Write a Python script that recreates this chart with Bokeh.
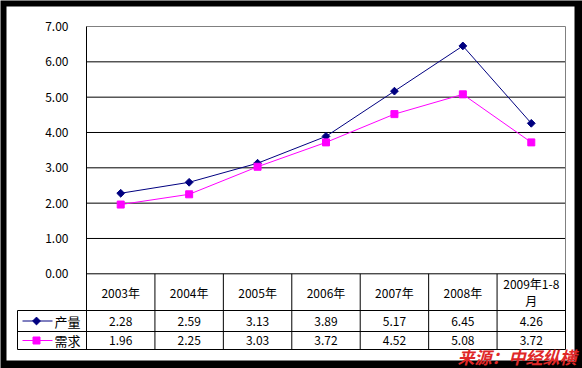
from bokeh.plotting import figure
from bokeh.models import Range1d, Label
from bokeh.core.properties import value
from bokeh.embed import file_html
from bokeh.resources import INLINE
import math

# ---------------- data ----------------
categories = ["2003年", "2004年", "2005年", "2006年", "2007年", "2008年", "2009年1-8月"]
header_labels = ["2003年", "2004年", "2005年", "2006年", "2007年", "2008年", "2009年1-8\n月"]
output_vals = [2.28, 2.59, 3.13, 3.89, 5.17, 6.45, 4.26]   # 产量
demand_vals = [1.96, 2.25, 3.03, 3.72, 4.52, 5.08, 3.72]   # 需求
series_names = ["产量", "需求"]
y_ticks = [0, 1, 2, 3, 4, 5, 6, 7]
y_tick_labels = ["0.00", "1.00", "2.00", "3.00", "4.00", "5.00", "6.00", "7.00"]
source_note = "来源：中经纵横"

# ---------------- layout (canvas pixels) ----------------
W, H = 582, 368
FL, FT, FR, FB = 6, 6, 574, 360          # white area
PX0, PX1 = 86.0, 565.0                   # plot left / right
PY0, PYTOP = 273.3, 26.0                 # pixel of y=0 and y=max
HEAD_B, ROW1_B, ROW2_B = 310.0, 331.0, 349.0
LEG_L = 17.0
n = len(categories)
ymax = y_ticks[-1]
kx = (PX1 - PX0) / n
ky = (PY0 - PYTOP) / ymax


def dx(px):
    return (px - PX0) / kx


def dy(py):
    return (PY0 - py) / ky


FONT = value("Noto Sans CJK SC")
NAVY = "#000080"
MAG = "#FF00FF"

p = figure(width=W, height=H,
           x_range=Range1d(dx(0), dx(W)), y_range=Range1d(dy(H), dy(0)),
           x_axis_type=None, y_axis_type=None,
           toolbar_location=None, output_backend="svg",
           min_border_left=0, min_border_top=0,
           min_border_right=0, min_border_bottom=0,
           border_fill_color="black", background_fill_color="black")
p.outline_line_color = None

# white chart area inside the black border
p.quad(left=[dx(FL)], right=[dx(FR)], bottom=[dy(FB)], top=[dy(FT)],
       fill_color="white", line_color=None)

# gridlines (interior), zero line, top border
inner = y_ticks[1:-1]
p.segment(x0=[0] * len(inner), x1=[n] * len(inner), y0=inner, y1=inner,
          line_color="black", line_width=1)
p.segment(x0=[0], x1=[n], y0=[y_ticks[0]], y1=[y_ticks[0]], line_color="black", line_width=1)
p.segment(x0=[0], x1=[n], y0=[ymax], y1=[ymax], line_color="#808080", line_width=1)
p.segment(x0=[n], x1=[n], y0=[0], y1=[ymax], line_color="#808080", line_width=1)

# table lines
yh, yr1, yr2 = dy(HEAD_B), dy(ROW1_B), dy(ROW2_B)
xl = dx(LEG_L)
p.segment(x0=[xl] * 3, x1=[n] * 3, y0=[yh, yr1, yr2], y1=[yh, yr1, yr2],
          line_color="black", line_width=1)
vx = list(range(1, n + 1))
p.segment(x0=vx, x1=vx, y0=[0] * n, y1=[yr2] * n, line_color="black", line_width=1)
p.segment(x0=[0], x1=[0], y0=[ymax], y1=[yr2], line_color="black", line_width=1)
p.segment(x0=[xl], x1=[xl], y0=[yh], y1=[yr2], line_color="black", line_width=1)

# y tick labels
p.text(x=[0] * len(y_ticks), y=y_ticks, text=y_tick_labels, x_offset=-18,
       text_align="right", text_baseline="middle", text_font=FONT,
       text_font_size="12px", text_color="black")

# series
centers = [i + 0.5 for i in range(n)]
p.line(centers, output_vals, line_color=NAVY, line_width=1)
p.scatter(centers, output_vals, marker="square", angle=math.pi / 4, size=5.5, color=NAVY)
p.line(centers, demand_vals, line_color=MAG, line_width=1)
p.scatter(centers, demand_vals, marker="square", size=7, color=MAG)

# table header
p.text(x=centers, y=[dy((PY0 + HEAD_B) / 2)] * n, text=header_labels,
       text_align="center", text_baseline="middle", text_font=FONT,
       text_font_size="12px", text_line_height=1.0, text_color="black")

# table rows
row_c = [dy((HEAD_B + ROW1_B) / 2), dy((ROW1_B + ROW2_B) / 2)]
for vals, yc in zip([output_vals, demand_vals], row_c):
    p.text(x=centers, y=[yc] * n, text=["%.2f" % v for v in vals],
           text_align="center", text_baseline="middle", text_font=FONT,
           text_font_size="12px", text_color="black")

# legend keys in table
colors = [NAVY, MAG]
markers = ["square", "square"]
angles = [math.pi / 4, 0]
msizes = [5.5, 7]
for name, yc, c, m, a, s in zip(series_names, row_c, colors, markers, angles, msizes):
    p.segment(x0=[dx(22)], x1=[dx(52)], y0=[yc], y1=[yc], line_color=c, line_width=1)
    p.scatter([dx(36)], [yc], marker=m, angle=a, size=s, color=c)
    p.text(x=[dx(54)], y=[yc], text=[name], text_align="left", text_baseline="middle",
           text_font=FONT, text_font_size="13px", text_color="black")

# source note
p.add_layout(Label(x=dx(576), y=dy(356), text=source_note, text_align="right",
                   text_baseline="middle", text_font="Noto Sans CJK SC",
                   text_font_size="17px", text_font_style="bold italic",
                   text_color="#E02828"))

open("out.html", "w").write(file_html(p, INLINE))
